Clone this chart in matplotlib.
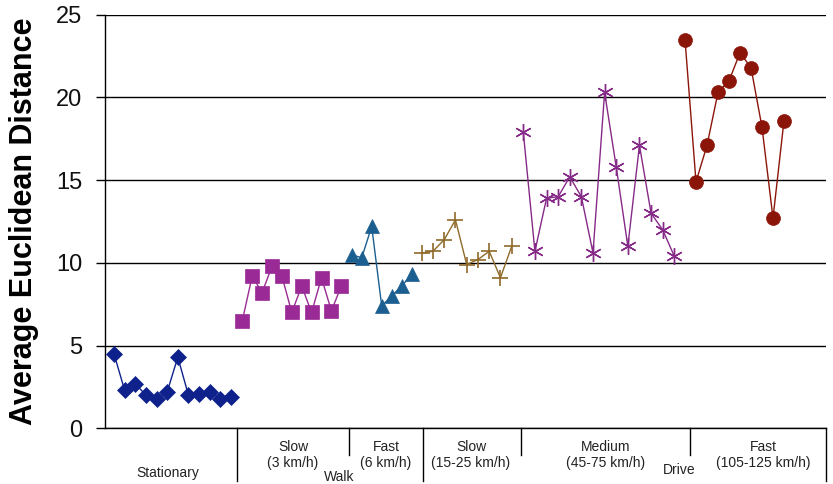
import numpy as np
import matplotlib
matplotlib.use("Agg")
import matplotlib.pyplot as plt
from matplotlib.transforms import blended_transform_factory

plt.rcParams['font.family'] = ['Liberation Sans', 'DejaVu Sans']

# ---- data ----
stationary = [4.5, 2.3, 2.7, 2.0, 1.8, 2.2, 4.3, 2.0, 2.1, 2.2, 1.8, 1.9]
walk_slow = [6.5, 9.2, 8.2, 9.8, 9.2, 7.0, 8.6, 7.0, 9.1, 7.1, 8.6]
walk_fast = [10.5, 10.3, 12.2, 7.4, 8.0, 8.6, 9.3]
drive_slow = [10.6, 10.7, 11.4, 12.6, 9.9, 10.2, 10.7, 9.1, 11.0]
drive_medium = [17.9, 10.7, 13.9, 14.0, 15.2, 14.0, 10.6, 20.3, 15.8, 11.0, 17.1, 13.0, 12.0, 10.4]
drive_fast = [23.5, 14.9, 17.1, 20.3, 21.0, 22.7, 21.8, 18.2, 12.7, 18.6]

sub_labels = ["Stationary", "Slow\n(3 km/h)", "Fast\n(6 km/h)",
              "Slow\n(15-25 km/h)", "Medium\n(45-75 km/h)", "Fast\n(105-125 km/h)"]
group_labels = ["Walk", "Drive"]
y_ticks = [0, 5, 10, 15, 20, 25]
y_title = "Average Euclidean Distance"

# ---- layout (pixel based) ----
W, H = 833, 484
L, R, T, B = 105, 826, 14.7, 428.3

def px2x(p):
    return (p - L) / 10.0

spans = [(114, 231), (242.3, 341.3), (351.7, 411.7), (421.7, 511.7), (523.3, 674.3), (685, 784)]
styles = [
    dict(color='#0F228C', marker='D', ms=8.5),
    dict(color='#9A2B96', marker='s', ms=9.5),
    dict(color='#1B5E90', marker='^', ms=10),
    dict(color='#8F6A2A', marker='+', ms=11, mew=1.2),
    dict(color='#862A88', marker=(6, 2, 0), ms=12, mew=1.0),
    dict(color='#8B1508', marker='o', ms=10),
]
series = [stationary, walk_slow, walk_fast, drive_slow, drive_medium, drive_fast]

fig = plt.figure(figsize=(W / 100, H / 100), dpi=100)
ax = fig.add_axes([L / W, 1 - B / H, (R - L) / W, (B - T) / H])

for vals, (a, b), st in zip(series, spans, styles):
    xs = np.linspace(px2x(a), px2x(b), len(vals))
    ax.plot(xs, vals, linestyle='-', lw=1.0, color=st['color'], marker=st['marker'],
            ms=st['ms'], mew=st.get('mew', 0.5), mec=st['color'], mfc=st['color'], zorder=3)

ax.set_xlim(0, px2x(R))
ax.set_ylim(0, 25)
ax.set_yticks(y_ticks)
ax.set_yticklabels([str(v) for v in y_ticks], fontsize=17, color='#111111')
ax.tick_params(axis='y', direction='out', length=6.5, width=1, pad=10)
ax.set_xticks([])
ax.yaxis.grid(True, color='black', lw=1)
ax.set_axisbelow(True)
for s in ['top', 'right']:
    ax.spines[s].set_visible(False)
ax.spines['left'].set_linewidth(1)
ax.spines['bottom'].set_linewidth(1)
ax.set_ylabel(y_title, fontsize=22, fontweight='bold')
ax.yaxis.set_label_coords((39 - L) / (R - L), 0.5)

# category axis separators
tr = blended_transform_factory(ax.transData, fig.transFigure)
short_seps = [349, 521, 690]
long_seps = [237, 423, R]
for p in short_seps:
    ax.plot([px2x(p)] * 2, [1 - B / H, 1 - 455 / H], color='black', lw=1, transform=tr, clip_on=False)
for p in long_seps:
    ax.plot([px2x(p)] * 2, [1 - B / H, 1 - 481 / H], color='black', lw=1, transform=tr, clip_on=False)

sub_pos = [(168, 473), (293, 455), (386, 455), (471, 455), (606, 455), (763, 455)]
for lab, (px, py) in zip(sub_labels, sub_pos):
    fig.text(px / W, 1 - py / H, lab, ha='center', va='center', fontsize=10,
             linespacing=1.25, color='#222222')
grp_pos = [(339, 477), (679, 470)]
for lab, (px, py) in zip(group_labels, grp_pos):
    fig.text(px / W, 1 - py / H, lab, ha='center', va='center', fontsize=10, color='#222222')

fig.savefig("out.png", dpi=100)
